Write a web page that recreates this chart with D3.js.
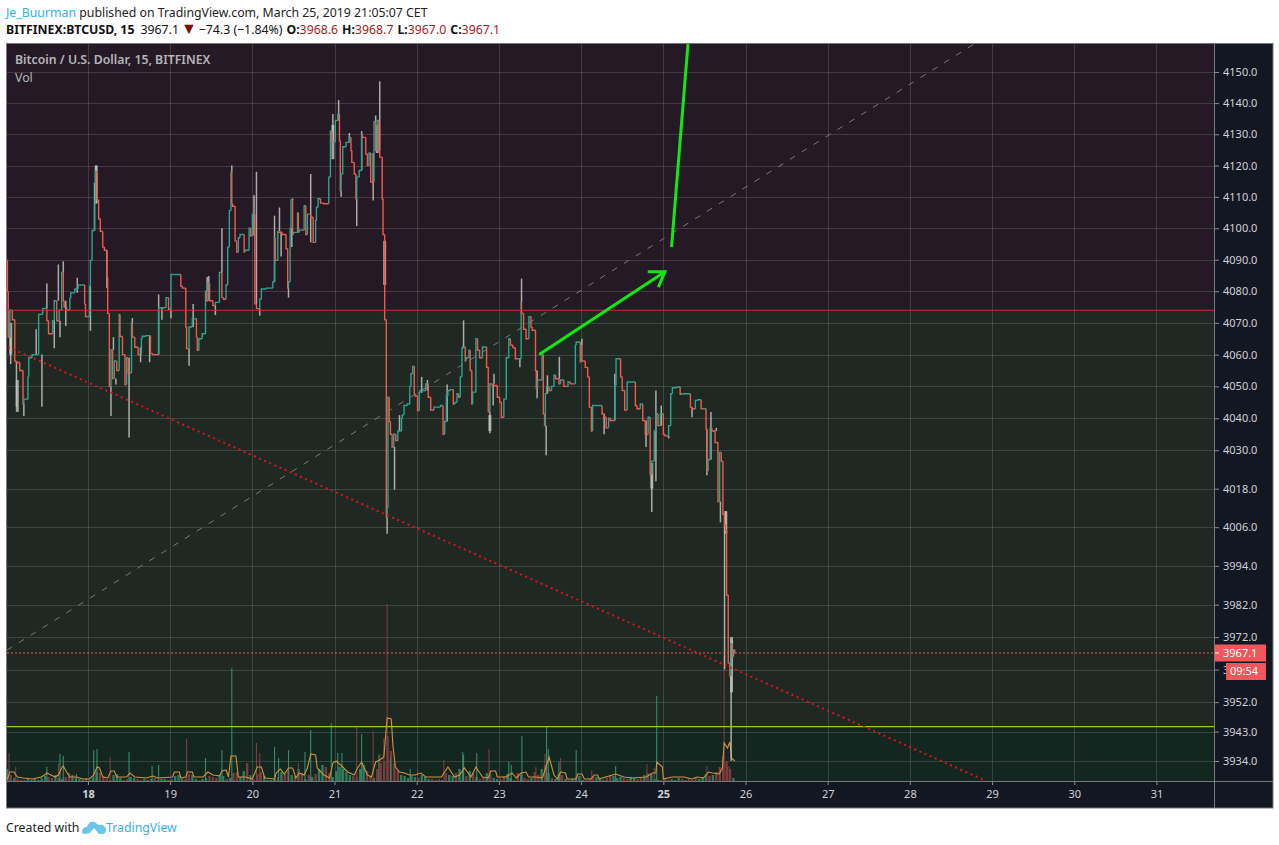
<!DOCTYPE html>
<html>
<head>
<meta charset="utf-8">
<script src="https://cdn.jsdelivr.net/npm/d3@7"></script>
<style>
  body { margin: 0; background: #fff; }
  text { font-family: "Noto Sans", sans-serif; }
</style>
</head>
<body>
<div id="chart"></div>
<script>
// Axis ticks
const dayTicks = [18, 19, 20, 21, 22, 23, 24, 25, 26, 27, 28, 29, 30, 31];
const boldDays = [18, 25];
const priceTicks = [4150, 4140, 4130, 4120, 4110, 4100, 4090, 4080, 4070, 4060, 4050, 4040, 4030, 4018, 4006, 3994, 3982, 3972, 3962, 3952, 3943, 3934];

// Close price
const closeDays = [
  17.02, 17.03, 17.05, 17.08, 17.11, 17.13, 17.17, 17.21, 17.22, 17.27,
  17.28, 17.32, 17.35, 17.40, 17.45, 17.50, 17.52, 17.57, 17.59, 17.62,
  17.65, 17.68, 17.70, 17.71, 17.74, 17.78, 17.79, 17.84, 17.88, 17.90,
  17.96, 17.97, 17.99, 18.02, 18.03, 18.05, 18.08, 18.09, 18.11, 18.13,
  18.15, 18.18, 18.20, 18.23, 18.24, 18.26, 18.28, 18.30, 18.32, 18.35,
  18.38, 18.39, 18.42, 18.45, 18.47, 18.49, 18.53, 18.54, 18.57, 18.61,
  18.65, 18.66, 18.71, 18.76, 18.79, 18.86, 18.87, 18.95, 18.98, 19.01,
  19.04, 19.13, 19.15, 19.19, 19.20, 19.23, 19.27, 19.32, 19.33, 19.35,
  19.39, 19.43, 19.44, 19.46, 19.48, 19.52, 19.55, 19.60, 19.63, 19.65,
  19.68, 19.70, 19.72, 19.74, 19.75, 19.76, 19.79, 19.81, 19.83, 19.85,
  19.90, 19.91, 19.96, 19.98, 20.00, 20.03, 20.05, 20.09, 20.11, 20.17,
  20.25, 20.27, 20.28, 20.31, 20.32, 20.36, 20.41, 20.43, 20.44, 20.46,
  20.47, 20.49, 20.50, 20.55, 20.56, 20.57, 20.63, 20.65, 20.67, 20.71,
  20.74, 20.77, 20.78, 20.80, 20.83, 20.87, 20.93, 20.95, 20.97, 20.98,
  21.01, 21.04, 21.06, 21.07, 21.08, 21.10, 21.14, 21.18, 21.20, 21.21,
  21.24, 21.26, 21.27, 21.30, 21.33, 21.34, 21.38, 21.40, 21.42, 21.44,
  21.48, 21.50, 21.52, 21.54, 21.55, 21.58, 21.59, 21.61, 21.63, 21.64,
  21.65, 21.665, 21.68, 21.70, 21.72, 21.745, 21.77, 21.785, 21.815, 21.825,
  21.845, 21.885, 21.915, 21.93, 21.95, 21.97, 21.98, 22.01, 22.03, 22.04,
  22.11, 22.14, 22.17, 22.21, 22.29, 22.32, 22.34, 22.36, 22.38, 22.41,
  22.445, 22.465, 22.49, 22.51, 22.53, 22.55, 22.56, 22.59, 22.60, 22.635,
  22.65, 22.67, 22.68, 22.72, 22.74, 22.765, 22.80, 22.85, 22.87, 22.89,
  22.92, 22.98, 23.01, 23.03, 23.06, 23.09, 23.12, 23.14, 23.17, 23.20,
  23.23, 23.27, 23.275, 23.30, 23.33, 23.365, 23.39, 23.405, 23.445, 23.455,
  23.47, 23.485, 23.525, 23.54, 23.555, 23.565, 23.58, 23.61, 23.64, 23.67,
  23.69, 23.73, 23.75, 23.79, 23.84, 23.87, 23.93, 23.94, 23.99, 23.995,
  24.01, 24.05, 24.08, 24.10, 24.125, 24.14, 24.16, 24.255, 24.275, 24.305,
  24.335, 24.355, 24.41, 24.425, 24.48, 24.50, 24.53, 24.56, 24.58, 24.66,
  24.68, 24.72, 24.75, 24.78, 24.815, 24.84, 24.86, 24.89, 24.91, 24.935,
  24.965, 25.00, 25.02, 25.065, 25.09, 25.11, 25.165, 25.205, 25.225, 25.33,
  25.35, 25.39, 25.42, 25.46, 25.48, 25.52, 25.53, 25.545, 25.57, 25.59,
  25.63, 25.665, 25.685, 25.705, 25.725, 25.745, 25.755, 25.77, 25.79, 25.81,
  25.82, 25.84, 25.855, 25.87, 25.875
];
const closePrices = [
  4090, 4080, 4065.5, 4074, 4071, 4058, 4057.5, 4055, 4044.5, 4046,
  4053, 4059, 4060, 4060, 4072.7, 4074.6, 4070.7, 4066.6, 4070.7, 4077,
  4070.7, 4074, 4086, 4077, 4075, 4074, 4077.8, 4079.5, 4080.7, 4082,
  4082, 4076, 4072, 4072, 4081.6, 4089.8, 4099.3, 4107.8, 4118, 4109,
  4103, 4099, 4094, 4093, 4084.5, 4073, 4050, 4061.5, 4052.5, 4058,
  4055, 4072.7, 4065.7, 4060, 4050.6, 4059, 4054.3, 4070, 4065.5, 4062.3,
  4060, 4065, 4065.8, 4066, 4060.3, 4060, 4074.8, 4074.8, 4078, 4074.3,
  4085.3, 4085.3, 4081.6, 4081, 4068.7, 4061.9, 4068.7, 4071.3, 4065.5, 4061.4,
  4065, 4066.6, 4080, 4077, 4082.5, 4077, 4075.5, 4076.5, 4086, 4078,
  4077.5, 4082, 4094, 4105.6, 4117.8, 4107.8, 4107, 4096, 4092.4, 4097,
  4098, 4092.4, 4093, 4100, 4097.6, 4104.5, 4076, 4074.5, 4077.5, 4080.7,
  4081, 4083, 4097, 4089.8, 4099, 4098.7, 4098, 4093.5, 4081, 4083,
  4100, 4109, 4098, 4098.7, 4104.9, 4098.7, 4099.4, 4107.2, 4098, 4104.5,
  4103.5, 4095.5, 4102.5, 4106.7, 4109.4, 4108, 4107.8, 4116.3, 4131, 4127.5,
  4127.5, 4134.4, 4136.5, 4128, 4112, 4117.3, 4126, 4127.4, 4129, 4124.8,
  4121, 4117.3, 4109.4, 4116.3, 4118.4, 4129.9, 4129, 4123.7, 4120, 4124,
  4114.7, 4134, 4124.8, 4134.4, 4124.8, 4122.7, 4109.4, 4098, 4071, 4009,
  4012, 4046.6, 4039, 4035, 4031, 4035, 4033, 4036, 4036, 4040,
  4041, 4044, 4044.5, 4050, 4054, 4056.3, 4047.7, 4047, 4042.4, 4048,
  4048.7, 4050.8, 4046.6, 4042.6, 4043.5, 4044, 4035, 4039, 4047, 4048.7,
  4049, 4044.5, 4045, 4047.7, 4046.6, 4053, 4062, 4062.4, 4058, 4059,
  4061.4, 4055, 4044.5, 4048.2, 4065, 4061.4, 4059, 4062.4, 4056, 4042,
  4050.8, 4050.3, 4046.6, 4045, 4040.3, 4046, 4059, 4065, 4063, 4062.2,
  4058.7, 4058.7, 4076.6, 4073, 4068, 4065, 4072, 4068.7, 4067.7, 4055,
  4049.3, 4052, 4052, 4060, 4041.4, 4037.7, 4047.7, 4050, 4048.7, 4050,
  4053.5, 4052.4, 4050.8, 4052, 4050, 4051.4, 4050.8, 4063, 4064, 4057.7,
  4063, 4058, 4056, 4053, 4043.5, 4036, 4044, 4044, 4041.4, 4040.3,
  4037, 4040, 4039.3, 4050.3, 4058.7, 4053, 4048.7, 4042.6, 4051.4, 4051.4,
  4044, 4043, 4044.5, 4039.3, 4035, 4040.3, 4022.4, 4026.6, 4036, 4041.4,
  4037.7, 4041.4, 4035, 4034.5, 4037.7, 4047.7, 4049.6, 4049.8, 4047.5, 4047.7,
  4043.5, 4043, 4045.6, 4045.8, 4043, 4043, 4036.6, 4023.5, 4027, 4037,
  4036, 4032.4, 4014, 4029.3, 4026.6, 4010, 4007, 4005, 3985, 3964,
  3960, 3970, 3966, 3968, 3967.1
];

// Wicks: the upper and lower ends that stick out of the close line
const highWickDays = [17.37, 17.50, 17.64, 17.70, 17.87, 18.08, 18.10, 18.31, 18.54, 18.86, 19.28, 19.45, 19.47, 19.63, 19.75, 20.02, 20.05, 20.27, 20.33, 20.49, 20.71, 20.98, 21.05, 21.18, 21.33, 21.50, 21.55, 21.79, 22.06, 22.13, 22.37, 22.57, 22.94, 23.275, 23.59, 23.735, 24.01, 24.41, 24.91, 24.975, 25.58, 25.645, 25.76, 25.84];
const highWicks = [4068, 4082.5, 4088.5, 4089.5, 4084.3, 4114.5, 4120, 4065.5, 4071.5, 4079, 4076, 4084.5, 4084.8, 4100, 4120, 4110.5, 4118, 4104, 4106.6, 4109.5, 4117.3, 4136.5, 4141, 4130.4, 4131, 4136, 4147, 4041, 4053, 4052, 4050.6, 4070.8, 4054, 4084, 4053.5, 4059.3, 4065, 4054, 4048.7, 4044, 4042, 4037, 4011, 3971];
const lowWickDays = [17.06, 17.13, 17.22, 17.44, 17.59, 17.66, 17.73, 18.03, 18.23, 18.28, 18.34, 18.50, 18.64, 18.75, 18.90, 19.01, 19.23, 19.55, 20.09, 20.35, 20.44, 20.48, 20.71, 21.08, 21.27, 21.47, 21.64, 21.73, 22.89, 22.93, 23.255, 23.465, 23.575, 24.135, 24.28, 24.79, 24.86, 24.91, 25.065, 25.35, 25.53, 25.695, 25.745, 25.825];
const lowWicks = [4057, 4043.6, 4040.7, 4043.6, 4062, 4065.5, 4069, 4067.5, 4081, 4040.7, 4050.6, 4034, 4057.6, 4057.6, 4071, 4071.5, 4056.5, 4072.5, 4072.3, 4091, 4078, 4094, 4095.5, 4110, 4100.7, 4108.8, 4004, 4017.7, 4035.3, 4044, 4056, 4046.3, 4028.4, 4036.3, 4035, 4031, 4010.7, 4020.3, 4033.7, 4040.3, 4022.2, 4007.5, 3962, 3934];

// Grey candle bodies wide enough to show
const bodyDays = [17.06, 17.14, 18.10, 20.98, 21.52, 21.61, 22.89, 24.86, 25.76, 25.83];
const bodyLows = [4060, 4042, 4108, 4122, 4124, 4082, 4036, 4018, 4004, 3955];
const bodyHighs = [4070, 4052, 4120, 4133, 4133, 4096, 4041, 4026, 4011, 3972];

// Hourly volume, one row per day, first bar at 17.02
const volumeRows = [
  12, 6, 3, 2, 1, 1, 2, 1, 2, 1, 3, 5, 4, 3, 6, 3, 2, 4, 8, 6, 3, 2, 1, 3,
  1, 3, 9, 8, 5, 2, 1, 6, 7, 3, 1, 2, 4, 3, 2, 1, 2, 1, 2, 3, 1, 2, 2, 1,
  2, 5, 6, 2, 2, 7, 6, 2, 1, 2, 3, 5, 4, 3, 6, 5, 2, 3, 8, 9, 4, 10, 18, 6,
  2, 7, 9, 5, 1, 1, 2, 4, 9, 7, 10, 6, 5, 12, 8, 2, 6, 4, 7, 12, 16, 14, 8, 4,
  10, 14, 12, 9, 6, 5, 4, 12, 16, 10, 4, 3, 12, 18, 20, 45, 30, 18, 10, 6, 5, 3, 5, 4,
  3, 6, 4, 2, 2, 1, 2, 1, 8, 6, 5, 8, 12, 9, 5, 10, 8, 4, 2, 3, 8, 7, 3, 2,
  2, 5, 7, 3, 1, 8, 6, 3, 2, 3, 9, 6, 12, 16, 8, 3, 2, 7, 6, 2, 1, 2, 4, 5,
  1, 1, 3, 5, 4, 2, 1, 3, 6, 5, 3, 4, 3, 2, 4, 3, 2, 3, 6, 8, 7, 2, 1, 1,
  3, 1, 2, 1, 3, 2, 1, 2, 1, 3, 2, 4, 7, 5, 6, 9, 14, 25, 20, 12, 3
];
const volumeStart = 17.02;

// The tall single bars that stand out of the volume pane
const spikeDays = [17.04, 17.12, 17.50, 17.64, 17.66, 17.70, 17.86, 18.07, 18.11, 18.27, 18.50, 18.78, 18.86, 19.20, 19.43, 19.63, 19.75, 20.05, 20.09, 20.27, 20.32, 20.44, 20.56, 20.64, 20.71, 20.96, 21.04, 21.09, 21.27, 21.33, 21.47, 21.54, 21.55, 21.60, 21.64, 21.68, 21.92, 22.01, 22.33, 22.56, 22.57, 22.73, 22.88, 23.12, 23.15, 23.28, 23.45, 23.56, 23.58, 23.60, 23.73, 23.75, 23.94, 24.13, 24.42, 24.80, 24.89, 24.92, 25.53, 25.74, 25.78, 25.80];
const spikeVolumes = [28, 14, 14, 18, 27, 25, 7, 31, 32, 24, 29, 15, 16, 42, 23, 31, 113, 38, 28, 34, 23, 31, 18, 29, 51, 58, 28, 28, 54, 47, 50, 26, 27, 43, 177, 23, 12, 12, 21, 29, 26, 28, 32, 19, 16, 45, 14, 27, 54, 32, 19, 23, 31, 11, 15, 17, 13, 85, 15, 125, 14, 15];
const spikeUp = [0, 0, 1, 0, 1, 1, 1, 1, 1, 0, 1, 1, 1, 0, 1, 1, 1, 0, 0, 1, 1, 1, 0, 1, 1, 1, 1, 1, 0, 1, 0, 1, 0, 0, 0, 1, 1, 0, 0, 1, 1, 1, 0, 1, 1, 1, 0, 0, 1, 1, 1, 0, 1, 0, 1, 0, 0, 1, 0, 0, 0, 0];

// Volume moving average
const maDays = [
  17.02, 17.05, 17.10, 17.14, 17.21, 17.33, 17.43, 17.47, 17.50, 17.55, 17.60, 17.64, 17.68, 17.70, 17.74, 17.78, 17.86, 17.94,
  18.02, 18.07, 18.11, 18.14, 18.18, 18.24, 18.28, 18.32, 18.35, 18.47, 18.51, 18.57, 18.71, 18.79, 18.85,
  19.03, 19.05, 19.11, 19.13, 19.19, 19.21, 19.27, 19.29, 19.40, 19.46, 19.52, 19.60, 19.63, 19.68, 19.71, 19.74, 19.80, 19.83, 19.92,
  20.00, 20.06, 20.11, 20.15, 20.27, 20.29, 20.34, 20.39, 20.44, 20.49, 20.53, 20.57, 20.63, 20.67, 20.71, 20.77, 20.79, 20.87, 20.94, 20.98,
  21.02, 21.10, 21.16, 21.24, 21.28, 21.33, 21.40, 21.45, 21.50, 21.55, 21.60, 21.64, 21.69, 21.71, 21.74, 21.79, 21.85, 21.91, 21.98,
  22.05, 22.11, 22.19, 22.30, 22.38, 22.46, 22.52, 22.58, 22.66, 22.72, 22.80, 22.87, 22.90, 22.96, 22.98,
  23.09, 23.16, 23.21, 23.27, 23.33, 23.36, 23.45, 23.53, 23.61, 23.67, 23.71, 23.75, 23.81, 23.83, 23.94, 23.96,
  24.01, 24.04, 24.12, 24.16, 24.20, 24.22, 24.30, 24.42, 24.52, 24.62, 24.79, 24.87, 24.91, 24.92, 24.99,
  25.00, 25.11, 25.25, 25.35, 25.41, 25.49, 25.55, 25.60, 25.68, 25.72, 25.74, 25.78, 25.81, 25.83, 25.87
];
const maVolumes = [
  2, 9, 9, 4, 3, 2, 4, 6, 8, 6, 4, 6, 13, 15, 9, 4, 4, 2,
  2, 6, 14, 13, 4, 3, 10, 10, 4, 4, 8, 4, 3, 5, 3,
  4, 9, 9, 3, 4, 9, 9, 4, 4, 9, 6, 5, 10, 11, 4, 25, 25, 4, 4,
  2, 14, 14, 3, 2, 8, 12, 7, 13, 13, 3, 8, 6, 13, 27, 26, 13, 6, 3, 18,
  20, 14, 9, 6, 13, 19, 6, 4, 19, 21, 24, 63, 62, 36, 14, 9, 8, 6, 6,
  8, 4, 4, 4, 14, 4, 6, 13, 4, 14, 4, 3, 10, 10, 4,
  4, 8, 3, 8, 9, 4, 4, 3, 24, 6, 2, 9, 8, 2, 2, 7,
  7, 2, 2, 6, 6, 2, 4, 7, 4, 3, 4, 8, 8, 19, 14,
  2, 4, 4, 2, 4, 3, 9, 8, 7, 13, 38, 33, 39, 23, 20
];

// Drawn levels and lines, as [day, price]
const resistance = 4074;
const support = 3944.5;
const lastPrice = 3967.1;
const greyTrend = [[17.015, 3968], [28.78, 4159]];
const redTrend = [[17.03, 4062.4], [28.93, 3927.9]];
const greenArrow = [[23.49, 4060], [25.02, 4086.2]];
const greenArrowBarbs = [[[24.81, 4086.2], [25.02, 4086.2], [24.94, 4081.3]]];
const greenRise = [[25.10, 4094], [25.30, 4159]];

const width = 1279, height = 845;
const plot = { left: 7, right: 1214, top: 44, bottom: 781, axisBottom: 808, outer: 1273 };

const x = d3.scaleLinear().domain([17.015, 31.7]).range([plot.left, plot.right]);
const y = d3.scaleLog().domain([3934, 4150]).range([761, 72]);
const yVol = d3.scaleLinear().domain([0, 177]).range([plot.bottom, 604]);

const svg = d3.select("#chart").append("svg")
    .attr("width", width)
    .attr("height", height)
    .style("display", "block");

svg.append("clipPath").attr("id", "plot-clip")
  .append("rect")
    .attr("x", plot.left).attr("y", plot.top)
    .attr("width", plot.right - plot.left).attr("height", plot.bottom - plot.top);

// Pane and axis backgrounds
svg.append("rect")
    .attr("x", 6).attr("y", 43)
    .attr("width", plot.outer - 6).attr("height", plot.axisBottom - 43)
    .attr("fill", "#131722");

const g = svg.append("g").attr("clip-path", "url(#plot-clip)");
g.append("rect").attr("x", plot.left).attr("y", plot.top)
    .attr("width", plot.right - plot.left).attr("height", y(resistance) - plot.top)
    .attr("fill", "#241925");
g.append("rect").attr("x", plot.left).attr("y", y(resistance))
    .attr("width", plot.right - plot.left).attr("height", y(support) - y(resistance))
    .attr("fill", "#1f2823");
g.append("rect").attr("x", plot.left).attr("y", y(support))
    .attr("width", plot.right - plot.left).attr("height", plot.bottom - y(support))
    .attr("fill", "#132620");

// Grid
g.append("g").selectAll("line")
  .data(priceTicks)
  .join("line")
    .attr("x1", plot.left).attr("x2", plot.right)
    .attr("y1", d => Math.round(y(d)) + 0.5).attr("y2", d => Math.round(y(d)) + 0.5)
    .attr("stroke", "#fff").attr("stroke-opacity", 0.14);
g.append("g").selectAll("line")
  .data(dayTicks)
  .join("line")
    .attr("x1", d => Math.round(x(d)) + 0.5).attr("x2", d => Math.round(x(d)) + 0.5)
    .attr("y1", plot.top).attr("y2", plot.bottom)
    .attr("stroke", "#fff").attr("stroke-opacity", 0.14);

// Volume
const closes = d3.zip(closeDays, closePrices);
const bisectDay = d3.bisector(d => d[0]).right;
function closeIndex(day) {
  return Math.max(0, Math.min(closes.length - 1, bisectDay(closes, day) - 1));
}
function closeAt(day) {
  return closes[closeIndex(day)][1];
}
function isUp(day) {
  const i = closeIndex(day);
  return i === 0 || closes[i][1] >= closes[i - 1][1];
}

const volumeBars = volumeRows.map((v, i) => ({ day: volumeStart + i / 24, value: v, up: isUp(volumeStart + i / 24) }));
g.append("g").selectAll("line")
  .data(volumeBars)
  .join("line")
    .attr("x1", d => x(d.day)).attr("x2", d => x(d.day))
    .attr("y1", plot.bottom).attr("y2", d => yVol(d.value))
    .attr("stroke", d => d.up ? "#2f7a5c" : "#7a3b3e")
    .attr("stroke-width", 2.4);

g.append("g").selectAll("line")
  .data(spikeDays.map((d, i) => ({ day: d, value: spikeVolumes[i], up: spikeUp[i] })))
  .join("line")
    .attr("x1", d => x(d.day)).attr("x2", d => x(d.day))
    .attr("y1", plot.bottom).attr("y2", d => yVol(d.value))
    .attr("stroke", d => d.up ? "#3a8a66" : "#7d3d41")
    .attr("stroke-width", 1.1);

g.append("path")
    .datum(d3.zip(maDays, maVolumes))
    .attr("fill", "none")
    .attr("stroke", "#d4913f")
    .attr("stroke-width", 1.1)
    .attr("d", d3.line().x(d => x(d[0])).y(d => yVol(d[1])));

// Wicks
const wicks = highWickDays.map((d, i) => ({ day: d, end: highWicks[i] }))
    .concat(lowWickDays.map((d, i) => ({ day: d, end: lowWicks[i] })));
g.append("g").selectAll("line")
  .data(wicks)
  .join("line")
    .attr("x1", d => x(d.day)).attr("x2", d => x(d.day))
    .attr("y1", d => y(closeAt(d.day))).attr("y2", d => y(d.end))
    .attr("stroke", "#c3c6bc")
    .attr("stroke-opacity", 0.85)
    .attr("stroke-width", 1.5);

g.append("g").selectAll("line")
  .data(bodyDays.map((d, i) => ({ day: d, low: bodyLows[i], high: bodyHighs[i] })))
  .join("line")
    .attr("x1", d => x(d.day)).attr("x2", d => x(d.day))
    .attr("y1", d => y(d.low)).attr("y2", d => y(d.high))
    .attr("stroke", "#c3c6bc")
    .attr("stroke-opacity", 0.8)
    .attr("stroke-width", 3);

// Close line, one step per bar, green going up and red going down
const stepLine = d3.line().curve(d3.curveStepBefore).x(d => x(d[0])).y(d => y(d[1]));
g.append("g").selectAll("path")
  .data(d3.pairs(closes))
  .join("path")
    .attr("fill", "none")
    .attr("stroke", d => d[1][1] >= d[0][1] ? "#2aa58f" : "#f2594b")
    .attr("stroke-width", 1.4)
    .attr("d", d => stepLine(d));

// Levels
const level = g.append("g");
level.append("line")
    .attr("x1", plot.left).attr("x2", plot.right)
    .attr("y1", y(resistance)).attr("y2", y(resistance))
    .attr("stroke", "#d92b26").attr("stroke-width", 1.2);
level.append("line")
    .attr("x1", plot.left).attr("x2", plot.right)
    .attr("y1", y(support)).attr("y2", y(support))
    .attr("stroke", "#9ccc1c").attr("stroke-width", 1.2);
level.append("line")
    .attr("x1", plot.left).attr("x2", plot.right)
    .attr("y1", y(lastPrice)).attr("y2", y(lastPrice))
    .attr("stroke", "#f2594b").attr("stroke-dasharray", "2,2");

// Trend lines and arrows
const priceLine = d3.line().x(d => x(d[0])).y(d => y(d[1]));
g.append("path").attr("d", priceLine(greyTrend))
    .attr("fill", "none").attr("stroke", "#7d7a7e")
    .attr("stroke-width", 1).attr("stroke-dasharray", "6,8");
g.append("path").attr("d", priceLine(redTrend))
    .attr("fill", "none").attr("stroke", "#e0141a")
    .attr("stroke-width", 2).attr("stroke-dasharray", "2,3.6");
g.append("path").attr("d", priceLine(greenArrow))
    .attr("fill", "none").attr("stroke", "#12e812").attr("stroke-width", 3);
g.selectAll(".barb")
  .data(greenArrowBarbs)
  .join("path")
    .attr("class", "barb")
    .attr("d", d => priceLine(d))
    .attr("fill", "none").attr("stroke", "#12e812").attr("stroke-width", 3);
g.append("path").attr("d", priceLine(greenRise))
    .attr("fill", "none").attr("stroke", "#12e812").attr("stroke-width", 3);

// Axes
const axisColor = "#cfd2d6";
const yAxis = svg.append("g")
    .attr("transform", `translate(${plot.right + 1},0)`)
    .call(d3.axisRight(y).tickValues(priceTicks).tickFormat(d3.format(".1f")).tickSize(4).tickPadding(4));
yAxis.select(".domain").remove();
yAxis.selectAll("line").attr("stroke", "#8a8d93");
yAxis.selectAll("text")
    .attr("fill", axisColor).style("font-size", "11px").style("font-family", "'Noto Sans', sans-serif");

const xAxis = svg.append("g")
    .attr("transform", `translate(0,${plot.bottom})`)
    .call(d3.axisBottom(x).tickValues(dayTicks).tickFormat(d3.format("d")).tickSize(4).tickPadding(5));
xAxis.select(".domain").remove();
xAxis.selectAll("line").attr("stroke", "#8a8d93");
xAxis.selectAll("text")
    .attr("fill", axisColor)
    .style("font-size", "11px")
    .style("font-family", "'Noto Sans', sans-serif")
    .style("font-weight", d => boldDays.includes(d) ? "700" : "400");

// Pane borders
const frame = svg.append("g").attr("fill", "none").attr("stroke", "#77797e");
frame.append("rect").attr("x", 6.5).attr("y", 43.5)
    .attr("width", plot.outer - 6.5).attr("height", plot.axisBottom - 43.5);
frame.append("line").attr("x1", plot.right + 0.5).attr("x2", plot.right + 0.5)
    .attr("y1", 43).attr("y2", plot.axisBottom);
frame.append("line").attr("x1", 6).attr("x2", plot.outer)
    .attr("y1", plot.bottom + 0.5).attr("y2", plot.bottom + 0.5);

// Last price and countdown tags
const tagColor = "#f1575a";
const lastY = y(lastPrice);
svg.append("rect").attr("x", plot.right + 1).attr("y", lastY - 8.5)
    .attr("width", 51).attr("height", 17).attr("fill", tagColor);
svg.append("line").attr("x1", plot.right + 1).attr("x2", plot.right + 5)
    .attr("y1", lastY).attr("y2", lastY).attr("stroke", "#fff");
svg.append("text").attr("x", 1223).attr("y", lastY + 4)
    .attr("fill", "#fff").attr("font-size", 11).text(d3.format(".1f")(lastPrice));
svg.append("rect").attr("x", 1226).attr("y", lastY + 10)
    .attr("width", 40).attr("height", 17).attr("fill", tagColor);
svg.append("text").attr("x", 1230).attr("y", lastY + 22)
    .attr("fill", "#fff").attr("font-size", 11).text("09:54");

// Pane titles
svg.append("text").attr("x", 15).attr("y", 64)
    .attr("fill", "#b4b6b8").attr("font-size", 12.3).attr("font-weight", 600)
    .text("Bitcoin / U.S. Dollar, 15, BITFINEX");
svg.append("text").attr("x", 15).attr("y", 82)
    .attr("fill", "#b4b6b8").attr("font-size", 12.3).text("Vol");

// Header
const head1 = svg.append("text").attr("x", 6).attr("y", 17).attr("font-size", 12.3).attr("fill", "#222");
head1.append("tspan").attr("fill", "#35b0e6").text("Je_Buurman");
head1.append("tspan").text(" published on TradingView.com, March 25, 2019 21:05:07 CET");

const head2 = svg.append("text").attr("x", 6).attr("y", 34).attr("font-size", 12.3).attr("fill", "#111");
const ohlcRed = "#a61b1b";
head2.append("tspan").attr("font-weight", 700).text("BITFINEX:BTCUSD, 15");
head2.append("tspan").attr("dx", 6).text("3967.1");
head2.append("tspan").attr("dx", 2).attr("fill", "#7a0c0c").attr("font-size", 16).text("▼");
head2.append("tspan").attr("dx", 2).text("−74.3 (−1.84%)");
[["O:", "3968.6"], ["H:", "3968.7"], ["L:", "3967.0"], ["C:", "3967.1"]].forEach(([k, v]) => {
  head2.append("tspan").attr("dx", 4).attr("font-weight", 700).text(k);
  head2.append("tspan").attr("fill", ohlcRed).text(v);
});

// Footer
svg.append("text").attr("x", 6).attr("y", 832).attr("font-size", 12.3).attr("fill", "#222").text("Created with");
const logo = svg.append("g").attr("transform", "translate(82,820)");
logo.append("path")
    .attr("d", "M0,12 C0,8 3,7 5,7 C6,3 9,1 12,2 C15,3 16,5 17,5 C20,4 24,6 24,10 C24,13 22,14 20,14 L17,14 L12,8 L8,13 L3,14 C1,14 0,13 0,12 Z")
    .attr("fill", "#3bb3e4").attr("fill-opacity", 0.75);
svg.append("text").attr("x", 106).attr("y", 832).attr("font-size", 12.3).attr("fill", "#35b0e6").text("TradingView");
</script>
</body>
</html>
